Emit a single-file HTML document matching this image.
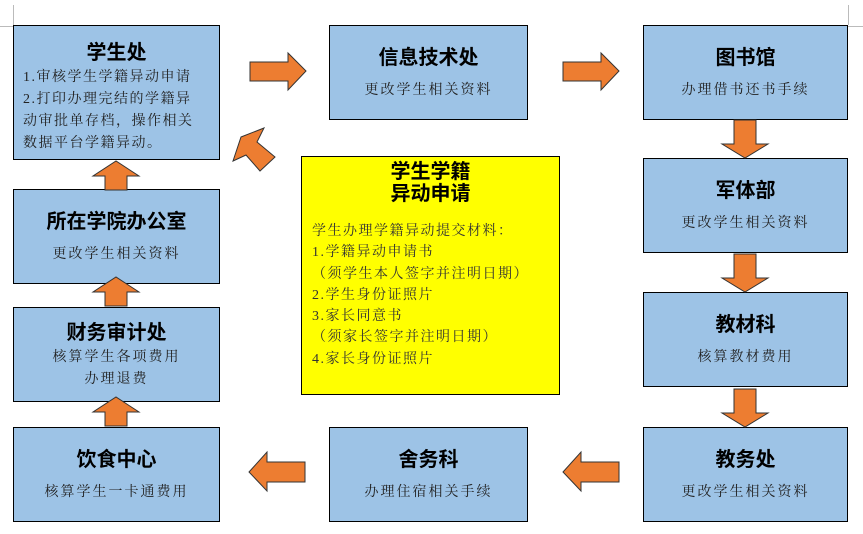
<!DOCTYPE html>
<html><head><meta charset="utf-8"><style>
body{margin:0;width:863px;height:534px;background:#fff;position:relative;overflow:hidden}
.b{position:absolute;background:#9dc3e6;border:1.5px solid #000;box-sizing:border-box;text-align:center}
.t{font-family:"Liberation Sans","Noto Sans CJK SC",sans-serif;font-weight:bold;font-size:20px;color:#000}
.s{font-family:"Liberation Serif","Noto Serif CJK SC",serif;font-size:14px;color:#222;letter-spacing:2px}
svg{position:absolute;left:0;top:0}
</style></head><body>
<div style="position:absolute;left:0;top:26px;width:13px;border-top:1px solid #bbb"></div>
<div style="position:absolute;left:13px;top:5px;height:20px;border-left:1px solid #bbb"></div>
<div style="position:absolute;left:848px;top:26px;width:15px;border-top:1px solid #bbb"></div>
<div style="position:absolute;left:848px;top:5px;height:20px;border-left:1px solid #bbb"></div>

<div class="b" style="left:13px;top:25px;width:207px;height:135px;">
<div class="t" style="margin-top:10px">学生处</div>
<div class="s" style="text-align:left;padding-left:9px;line-height:22px;margin-top:2px;letter-spacing:1.5px">1.审核学生学籍异动申请<br>2.打印办理完结的学籍异<br>动审批单存档，操作相关<br>数据平台学籍异动。</div></div>

<div class="b" style="left:329px;top:25px;width:199px;height:95px;">
<div class="t" style="margin-top:15px">信息技术处</div><div class="s" style="margin-top:9px">更改学生相关资料</div></div>
<div class="b" style="left:643px;top:25px;width:205px;height:95px;">
<div class="t" style="margin-top:15px">图书馆</div><div class="s" style="margin-top:9px">办理借书还书手续</div></div>
<div class="b" style="left:643px;top:158px;width:205px;height:95px;">
<div class="t" style="margin-top:15px">军体部</div><div class="s" style="margin-top:9px">更改学生相关资料</div></div>
<div class="b" style="left:643px;top:292px;width:205px;height:95px;">
<div class="t" style="margin-top:15px">教材科</div><div class="s" style="margin-top:9px">核算教材费用</div></div>
<div class="b" style="left:643px;top:427px;width:205px;height:95px;">
<div class="t" style="margin-top:15px">教务处</div><div class="s" style="margin-top:9px">更改学生相关资料</div></div>
<div class="b" style="left:329px;top:427px;width:199px;height:95px;">
<div class="t" style="margin-top:15px">舍务科</div><div class="s" style="margin-top:9px">办理住宿相关手续</div></div>
<div class="b" style="left:13px;top:427px;width:207px;height:95px;">
<div class="t" style="margin-top:15px">饮食中心</div><div class="s" style="margin-top:9px">核算学生一卡通费用</div></div>
<div class="b" style="left:13px;top:307px;width:207px;height:95px;">
<div class="t" style="margin-top:8px">财务审计处</div><div class="s" style="margin-top:2px;line-height:22px">核算学生各项费用<br>办理退费</div></div>
<div class="b" style="left:13px;top:189px;width:207px;height:95px;">
<div class="t" style="margin-top:15px">所在学院办公室</div><div class="s" style="margin-top:9px">更改学生相关资料</div></div>

<div class="b" style="left:301px;top:156px;width:259px;height:239px;background:#ffff00;">
<div class="t" style="margin-top:4px;line-height:22px">学生学籍<br>异动申请</div>
<div class="s" style="text-align:left;padding-left:10px;line-height:21.3px;margin-top:16px;letter-spacing:1.5px;color:#333">学生办理学籍异动提交材料：<br>1.学籍异动申请书<br>（须学生本人签字并注明日期）<br>2.学生身份证照片<br>3.家长同意书<br>（须家长签字并注明日期）<br>4.家长身份证照片</div></div>

<svg width="863" height="534" fill="#ed7d31" stroke="#333" stroke-width="1">
<g id="r"><polygon points="250,62 288,62 288,53 306,71 288,90 288,81 250,81"/></g>
<use href="#r" transform="translate(313,0)"/>
<g id="d"><polygon points="734,120 756,120 756,144 768,144 745,158 722,144 734,144"/></g>
<use href="#d" transform="translate(0,134)"/>
<use href="#d" transform="translate(0,269)"/>
<polygon points="619,462 581,462 581,452 563,472 581,491 581,482 619,482"/>
<polygon points="305,462 267,462 267,452 249,472 267,491 267,482 305,482"/>
<g id="u"><polygon points="105,426 127,426 127,412 139,412 116,397 93,412 105,412"/></g>
<use href="#u" transform="translate(0,-120)"/>
<use href="#u" transform="translate(0,-236)"/>
<polygon points="241,137 264,128 257,142 275,157 260,171 246,155 233,161"/>
</svg>
</body></html>
